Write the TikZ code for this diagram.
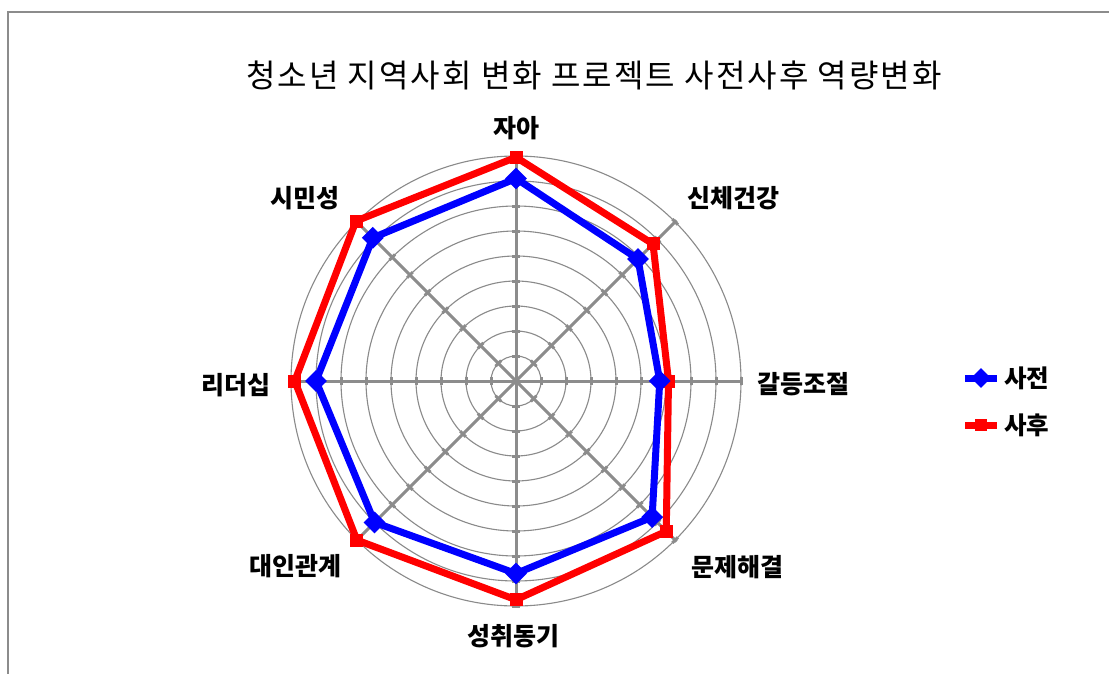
\documentclass[tikz,border=0pt]{standalone}
\usepackage{fontspec}
\setmainfont{Noto Sans CJK KR}
\usetikzlibrary{calc,shapes.geometric}
\definecolor{framegray}{HTML}{8C8C8C}
\definecolor{gridgray}{HTML}{8A8A8A}
\definecolor{axisgray}{HTML}{8C8C8C}
\definecolor{serblue}{HTML}{0000FF}
\definecolor{serred}{HTML}{FF0000}
\begin{document}
\begin{tikzpicture}[x=1pt,y=-1pt,
  ring/.style={draw=gridgray, line width=1.1pt},
  axisline/.style={draw=axisgray, line width=3pt},
  axtick/.style={draw=axisgray, line width=3pt},
  blueline/.style={draw=serblue, line width=7pt, line join=miter},
  redline/.style={draw=serred, line width=7pt, line join=miter},
  bluemark/.style={shape=diamond, fill=serblue, inner sep=0pt, minimum width=22pt, minimum height=22pt},
  redmark/.style={shape=rectangle, fill=serred, inner sep=0pt, minimum width=13pt, minimum height=13pt},
  lab/.style={font=\fontsize{25}{29}\selectfont\bfseries, text=black, inner sep=0pt},
  legtext/.style={font=\fontsize{24.5}{28}\selectfont\bfseries, text=black, inner sep=0pt, anchor=west},
  titletext/.style={font=\fontsize{32}{36}\selectfont\addfontfeatures{LetterSpace=6.5}, text=black, inner sep=0pt}
]
\useasboundingbox (0,0) rectangle (1109,674);
\fill[white] (0,0) rectangle (1109,674);
% chart frame
\draw[framegray, line width=1.6pt] (8,690) -- (8,12) -- (1120,12);

% title
\node[titletext] (title) at (594,75) {청소년 지역사회 변화 프로젝트 사전사후 역량변화};

\coordinate (c) at (516,381);
% rings
\foreach \k in {1,...,9} \draw[ring] (c) circle[radius=25*\k pt];
% axes with ticks
\foreach \a in {-90,-45,0,45,90,135,180,225} {
  \draw[axisline] (c) -- ($(c)+(\a:227)$);
  \foreach \k in {1,...,9}
    \draw[axtick] ($(c)+(\a:25*\k)+(\a+90:4)$) -- ($(c)+(\a:25*\k)+(\a-90:4)$);
}

% data points (ring units of 25px)
\foreach \v [count=\i] in {8.1,6.9,5.75,7.7,7.7,8.0,8.0,8.1}
  \coordinate (b\i) at ($(c)+(-135+45*\i:25*\v)$);
\foreach \v [count=\i] in {8.95,7.75,6.1,8.5,8.75,9.0,8.85,9.05}
  \coordinate (r\i) at ($(c)+(-135+45*\i:25*\v)$);

\draw[redline] (r1) -- (r2) -- (r3) -- (r4) -- (r5) -- (r6) -- (r7) -- (r8) -- cycle;
\foreach \i in {1,...,8} \node[redmark] at (r\i) {};
\draw[blueline] (b1) -- (b2) -- (b3) -- (b4) -- (b5) -- (b6) -- (b7) -- (b8) -- cycle;
\foreach \i in {1,...,8} \node[bluemark] at (b\i) {};

% category labels
\node[lab] (l1) at (516,128) {자아};
\node[lab] (l2) at (733,198) {신체건강};
\node[lab] (l3) at (803,384) {갈등조절};
\node[lab] (l4) at (737,567) {문제해결};
\node[lab] (l5) at (513,636) {성취동기};
\node[lab] (l6) at (295,566) {대인관계};
\node[lab] (l7) at (236,385) {리더십};
\node[lab] (l8) at (305,198) {시민성};

% legend
\coordinate (lb1) at (965,378); \coordinate (lb2) at (997,378); \coordinate (lbm) at (981,378);
\coordinate (lr1) at (965,425); \coordinate (lr2) at (997,425); \coordinate (lrm) at (981,425);
\draw[blueline] (lb1) -- (lb2);
\node[bluemark, minimum width=20pt, minimum height=20pt] at (lbm) {};
\node[legtext] (leg1) at (1004,378) {사전};
\draw[redline] (lr1) -- (lr2);
\node[redmark, minimum width=12pt, minimum height=12pt] at (lrm) {};
\node[legtext] (leg2) at (1004,425) {사후};
\end{tikzpicture}
\end{document}
